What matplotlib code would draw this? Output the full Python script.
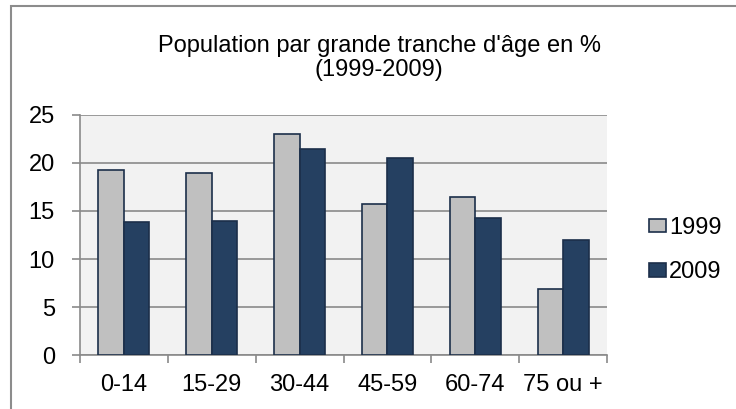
import numpy as np
import matplotlib
matplotlib.use('Agg')
import matplotlib.pyplot as plt
from matplotlib.patches import Patch, Rectangle

plt.rcParams['font.family'] = ['Liberation Sans', 'DejaVu Sans']

categories = ["0-14", "15-29", "30-44", "45-59", "60-74", "75 ou +"]
pop_1999 = [19.3, 19.0, 23.0, 15.7, 16.5, 6.9]
pop_2009 = [13.9, 14.0, 21.5, 20.5, 14.3, 12.0]
series_labels = ["1999", "2009"]

grey = '#C0C0C0'
navy = '#254061'
edge = '#1C2F4A'
axis_grey = '#8A8A8A'
fs = 17

fig = plt.figure(figsize=(7.36, 4.09), dpi=100)
ax = fig.add_axes([80/736, 54/409, 527/736, 240/409])
ax.set_facecolor('#F2F2F2')

x = np.arange(len(categories))
w = 0.29
ax.bar(x - w/2, pop_1999, w, color=grey, edgecolor=edge, linewidth=1.2, zorder=3)
ax.bar(x + w/2, pop_2009, w, color=navy, edgecolor=edge, linewidth=1.2, zorder=3)

ax.set_xlim(-0.5, len(categories) - 0.5)
ax.set_ylim(0, 25)
ax.set_yticks(range(0, 26, 5))
ax.yaxis.grid(True, color=axis_grey, linewidth=1.2, zorder=1)
ax.set_axisbelow(True)

# boundary ticks between categories, labels centred
ax.set_xticks(np.arange(-0.5, len(categories)), minor=False)
ax.set_xticklabels([])
ax.set_xticks(x, minor=True)
ax.set_xticklabels(categories, minor=True)
ax.tick_params(axis='x', which='major', length=6, width=1.2, color=axis_grey, direction='out')
ax.tick_params(axis='x', which='minor', length=0, pad=14, labelsize=fs)
ax.tick_params(axis='y', length=6, width=1.2, color=axis_grey, pad=12, labelsize=fs)

for s in ['top', 'right']:
    ax.spines[s].set_visible(False)
for s in ['left', 'bottom']:
    ax.spines[s].set_color(axis_grey)
    ax.spines[s].set_linewidth(1.2)

fig.text(379/736, 1 - 58/409, "Population par grande tranche d'âge en %\n(1999-2009)",
         ha='center', va='center', fontsize=fs, linespacing=1.15)

handles = [Patch(facecolor=grey, edgecolor=edge, linewidth=1.2),
           Patch(facecolor=navy, edgecolor=edge, linewidth=1.2)]
fig.legend(handles, series_labels, loc='center left', bbox_to_anchor=(628/736, 1 - 250/409),
           frameon=False, fontsize=fs, handlelength=0.7, handleheight=0.5,
           handletextpad=0.15, labelspacing=0.95)

fig.patches.append(Rectangle((11/736, -0.1), 1.2, 1.1 - 6/409, transform=fig.transFigure,
                             fill=False, edgecolor='#8C8C8C', linewidth=1.5))

fig.savefig('out.png', dpi=100)
